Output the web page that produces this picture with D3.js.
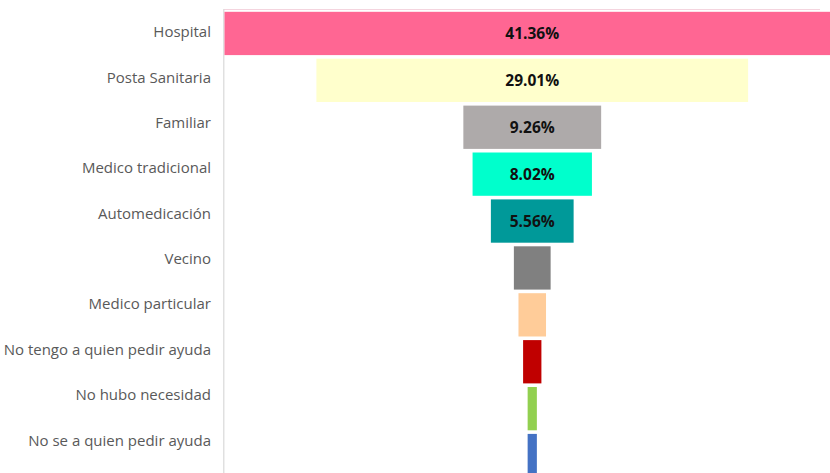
<!DOCTYPE html>
<html>
<head>
<meta charset="utf-8">
<script src="https://cdn.jsdelivr.net/npm/d3@7"></script>
<style>
  body { margin: 0; background: #fff; }
  svg { display: block; }
</style>
</head>
<body>
<div id="root"></div>
<script>
var categories = ["Hospital", "Posta Sanitaria", "Familiar", "Medico tradicional", "Automedicación",
                  "Vecino", "Medico particular", "No tengo a quien pedir ayuda", "No hubo necesidad",
                  "No se a quien pedir ayuda"];
var values = [41.36, 29.01, 9.26, 8.02, 5.56, 2.47, 1.85, 1.23, 0.62, 0.62];
var labels = ["41.36%", "29.01%", "9.26%", "8.02%", "5.56%", "", "", "", "", ""];
var colors = ["#ff6693", "#ffffcc", "#aeaaaa", "#00ffcc", "#009999",
              "#808080", "#ffcc99", "#c00000", "#92d050", "#4472c4"];

var w = 830, h = 473;
var svg = d3.select("#root").append("svg")
    .attr("width", w)
    .attr("height", h);

var maxVal = d3.max(values);
//centered funnel
var x = d3.scaleLinear()
    .domain([-maxVal / 2, maxVal / 2])
    .range([224.5, 840]);

var y = d3.scaleBand()
    .domain(categories)
    .range([10, 479])
    .paddingInner(0.077)
    .paddingOuter(0.0385);

//category labels sit on a slightly tighter pitch than the bars
var yLab = d3.scaleBand()
    .domain(categories)
    .range([9.3, 462.8]);

//faint top border
svg.append("line")
    .attr("x1", 224).attr("x2", 820)
    .attr("y1", 9.5).attr("y2", 9.5)
    .attr("stroke", "#f4d4de")
    .attr("stroke-width", 1);

//category axis line
svg.append("line")
    .attr("x1", 223.8).attr("x2", 223.8)
    .attr("y1", 9).attr("y2", h)
    .attr("stroke", "#d9d9d9")
    .attr("stroke-width", 1.2);

svg.selectAll("rect.bar")
    .data(values)
    .enter()
    .append("rect")
    .attr("class", "bar")
    .attr("x", function(d) { return x(-d / 2); })
    .attr("y", function(d, i) { return y(categories[i]); })
    .attr("width", function(d) { return x(d / 2) - x(-d / 2); })
    .attr("height", y.bandwidth())
    .attr("fill", function(d, i) { return colors[i]; });

svg.selectAll("text.val")
    .data(values)
    .enter()
    .append("text")
    .attr("class", "val")
    .text(function(d, i) { return labels[i]; })
    .attr("x", x(0))
    .attr("y", function(d, i) { return y(categories[i]) + y.bandwidth() / 2; })
    .attr("dy", "0.36em")
    .attr("text-anchor", "middle")
    .attr("font-family", "'Open Sans', sans-serif")
    .attr("font-weight", "bold")
    .attr("font-size", "15.5px")
    .attr("fill", "#111");

svg.selectAll("text.cat")
    .data(categories)
    .enter()
    .append("text")
    .attr("class", "cat")
    .text(function(d) { return d; })
    .attr("x", 211)
    .attr("y", function(d) { return yLab(d) + yLab.bandwidth() / 2; })
    .attr("dy", "0.36em")
    .attr("text-anchor", "end")
    .attr("font-family", "'Open Sans', sans-serif")
    .attr("font-size", "15px")
    .attr("fill", "#595959");
</script>
</body>
</html>
